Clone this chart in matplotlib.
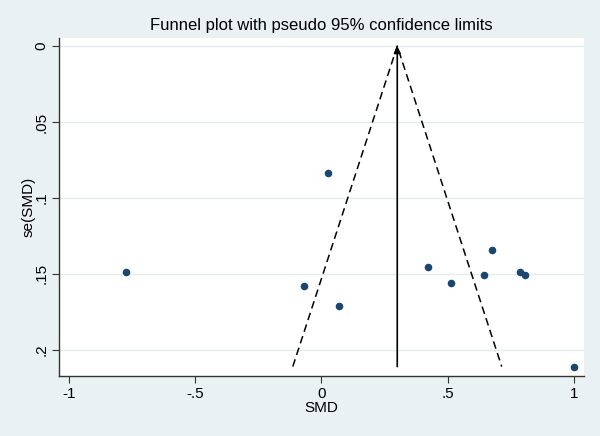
import matplotlib
matplotlib.use('Agg')
import matplotlib.pyplot as plt
import numpy as np

plt.rcParams['font.family'] = ['Liberation Sans', 'DejaVu Sans']

# Study estimates (SMD) and their standard errors
smd = [-0.772, 0.024, -0.071, 0.071, 0.420, 0.511, 0.677, 0.645, 0.784, 0.804, 1.000]
se = [0.149, 0.0836, 0.158, 0.171, 0.1455, 0.156, 0.134, 0.151, 0.1487, 0.151, 0.211]
pooled = 0.30

xticks = [-1, -0.5, 0, 0.5, 1]
xticklabels = ['-1', '-.5', '0', '.5', '1']
yticks = [0, 0.05, 0.1, 0.15, 0.2]
yticklabels = ['0', '.05', '.1', '.15', '.2']

bg = '#EAF1F3'
fig = plt.figure(figsize=(6, 4.36), dpi=100, facecolor=bg)
ax = fig.add_axes([0.0988, 0.1376, 0.874, 0.7752])
ax.set_facecolor('white')

# gridlines
for t in yticks:
    ax.axhline(t, color='#E3EDEF', lw=1.0, zorder=0)

# pseudo 95% confidence limits
se_max = max(se)
ax.plot([pooled - 1.96 * se_max, pooled, pooled + 1.96 * se_max], [se_max, 0, se_max],
        color='black', lw=1.1, ls=(0, (5, 3)), zorder=2)

# pooled estimate line with arrow at top
ax.annotate('', xy=(pooled, 0), xytext=(pooled, se_max),
            arrowprops=dict(arrowstyle='-|>', color='black', lw=1.2,
                            mutation_scale=10, shrinkA=0, shrinkB=0), zorder=3)

ax.scatter(smd, se, s=20, color='#1A476F', zorder=4)

ax.set_xlim(-1.038, 1.038)
ax.set_ylim(0.2172, -0.0053)
ax.set_xticks(xticks)
ax.set_xticklabels(xticklabels)
ax.set_yticks(yticks)
ax.set_yticklabels(yticklabels, rotation=90, va='center')

for side in ['top', 'right']:
    ax.spines[side].set_visible(False)
for side in ['left', 'bottom']:
    ax.spines[side].set_color('#333333')
    ax.spines[side].set_linewidth(1.0)
ax.tick_params(direction='out', length=5, width=0.8, color='#333333', labelsize=11, pad=3)

ax.set_xlabel('SMD', fontsize=11, labelpad=0)
ax.set_ylabel('se(SMD)', fontsize=11, labelpad=-1)
ax.set_title('Funnel plot with pseudo 95% confidence limits', fontsize=12, pad=6)

fig.savefig('out.png', dpi=100, facecolor=bg)
